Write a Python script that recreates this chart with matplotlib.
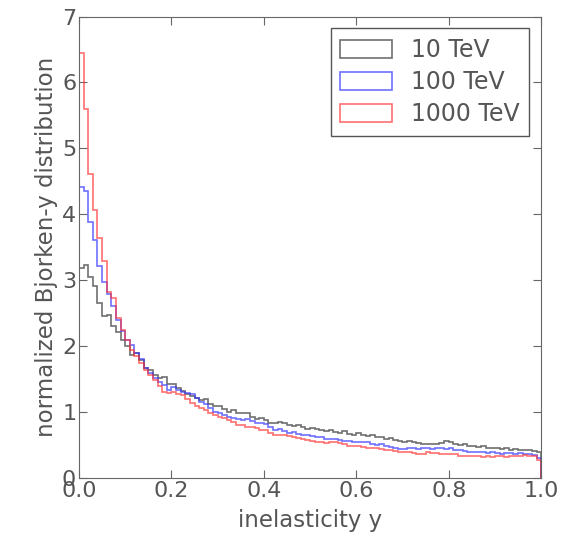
import numpy as np
from matplotlib import pyplot as plt

# normalized Bjorken-y distributions, 100 bins on [0, 1]
y_10tev = [3.19, 3.23, 3.05, 2.91, 2.66, 2.46, 2.47, 2.31, 2.21, 2.10,
           2.00, 1.87, 1.90, 1.79, 1.67, 1.64, 1.57, 1.52, 1.54, 1.42,
           1.43, 1.36, 1.32, 1.27, 1.24, 1.22, 1.19, 1.20, 1.12, 1.09,
           1.10, 1.05, 1.01, 1.03, 0.99, 0.98, 0.98, 0.93, 0.90, 0.91,
           0.88, 0.83, 0.84, 0.85, 0.84, 0.80, 0.79, 0.80, 0.77, 0.75,
           0.76, 0.74, 0.73, 0.72, 0.73, 0.70, 0.68, 0.71, 0.67, 0.66,
           0.68, 0.66, 0.64, 0.65, 0.63, 0.62, 0.60, 0.61, 0.58, 0.57,
           0.55, 0.56, 0.54, 0.53, 0.52, 0.52, 0.51, 0.52, 0.53, 0.56,
           0.55, 0.52, 0.50, 0.51, 0.49, 0.49, 0.47, 0.48, 0.46, 0.45,
           0.46, 0.44, 0.45, 0.43, 0.44, 0.42, 0.43, 0.42, 0.41, 0.39]

y_100tev = [4.41, 4.36, 3.88, 3.61, 3.22, 2.98, 2.79, 2.61, 2.40, 2.23,
            2.10, 2.02, 1.90, 1.80, 1.67, 1.59, 1.52, 1.46, 1.41, 1.34,
            1.38, 1.34, 1.31, 1.29, 1.27, 1.22, 1.16, 1.12, 1.06, 1.01,
            0.98, 0.95, 0.93, 0.91, 0.89, 0.88, 0.89, 0.86, 0.84, 0.84,
            0.82, 0.78, 0.73, 0.74, 0.71, 0.69, 0.70, 0.67, 0.65, 0.66,
            0.64, 0.63, 0.62, 0.60, 0.59, 0.60, 0.58, 0.56, 0.57, 0.55,
            0.55, 0.54, 0.55, 0.52, 0.50, 0.51, 0.48, 0.47, 0.45, 0.44,
            0.44, 0.45, 0.45, 0.44, 0.45, 0.46, 0.44, 0.45, 0.46, 0.44,
            0.45, 0.43, 0.42, 0.41, 0.40, 0.39, 0.40, 0.39, 0.38, 0.39,
            0.38, 0.37, 0.38, 0.38, 0.37, 0.38, 0.36, 0.37, 0.35, 0.30]

y_1000tev = [6.44, 5.59, 4.61, 4.07, 3.64, 3.29, 2.82, 2.73, 2.43, 2.25,
             2.10, 1.95, 1.85, 1.74, 1.64, 1.57, 1.49, 1.39, 1.31, 1.29,
             1.31, 1.28, 1.26, 1.20, 1.14, 1.10, 1.07, 1.04, 0.99, 0.96,
             0.93, 0.91, 0.88, 0.85, 0.81, 0.80, 0.78, 0.77, 0.76, 0.73,
             0.73, 0.69, 0.65, 0.66, 0.65, 0.64, 0.62, 0.61, 0.59, 0.58,
             0.57, 0.55, 0.54, 0.53, 0.55, 0.54, 0.53, 0.51, 0.49, 0.48,
             0.49, 0.47, 0.46, 0.46, 0.45, 0.44, 0.43, 0.42, 0.41, 0.40,
             0.40, 0.39, 0.38, 0.37, 0.37, 0.39, 0.38, 0.38, 0.37, 0.36,
             0.37, 0.36, 0.34, 0.34, 0.33, 0.34, 0.33, 0.32, 0.33, 0.32,
             0.33, 0.33, 0.32, 0.33, 0.33, 0.34, 0.35, 0.34, 0.33, 0.28]

labels = ['10 TeV', '100 TeV', '1000 TeV']
colors = ['#333333', '#3333ff', '#ff3333']

edges = np.linspace(0, 1, len(y_10tev) + 1)
centers = 0.5 * (edges[:-1] + edges[1:])

txt = '#555555'
plt.rcParams['font.family'] = 'DejaVu Sans'

fig = plt.figure(figsize=(5.85, 5.33), dpi=100)
ax = fig.add_axes([0.135, 0.103, 0.79, 0.866])

for vals, lab, col in zip([y_10tev, y_100tev, y_1000tev], labels, colors):
    ax.hist(centers, bins=edges, weights=vals, histtype='step',
            color=col, alpha=0.7, linewidth=1.2, label=lab)

ax.set_xlim(0, 1)
ax.set_ylim(0, 7)
ax.set_xticks([0.0, 0.2, 0.4, 0.6, 0.8, 1.0])
ax.set_yticks(range(8))
ax.tick_params(direction='in', top=True, right=True, length=6,
               labelsize=16, colors='#666666', labelcolor=txt, pad=2)
for sp in ax.spines.values():
    sp.set_color('#666666')

ax.set_xlabel('inelasticity y', fontsize=16.5, color=txt, labelpad=6)
ax.set_ylabel('normalized Bjorken-y distribution', fontsize=16.5, color=txt, labelpad=3)

leg = ax.legend(loc='upper right', fontsize=17, handlelength=2.2,
                handleheight=0.8, fancybox=False, framealpha=1,
                borderaxespad=0.5, borderpad=0.4, labelspacing=0.35)
leg.get_frame().set_edgecolor('#555555')
for t in leg.get_texts():
    t.set_color(txt)

fig.savefig('out.png', dpi=100)
